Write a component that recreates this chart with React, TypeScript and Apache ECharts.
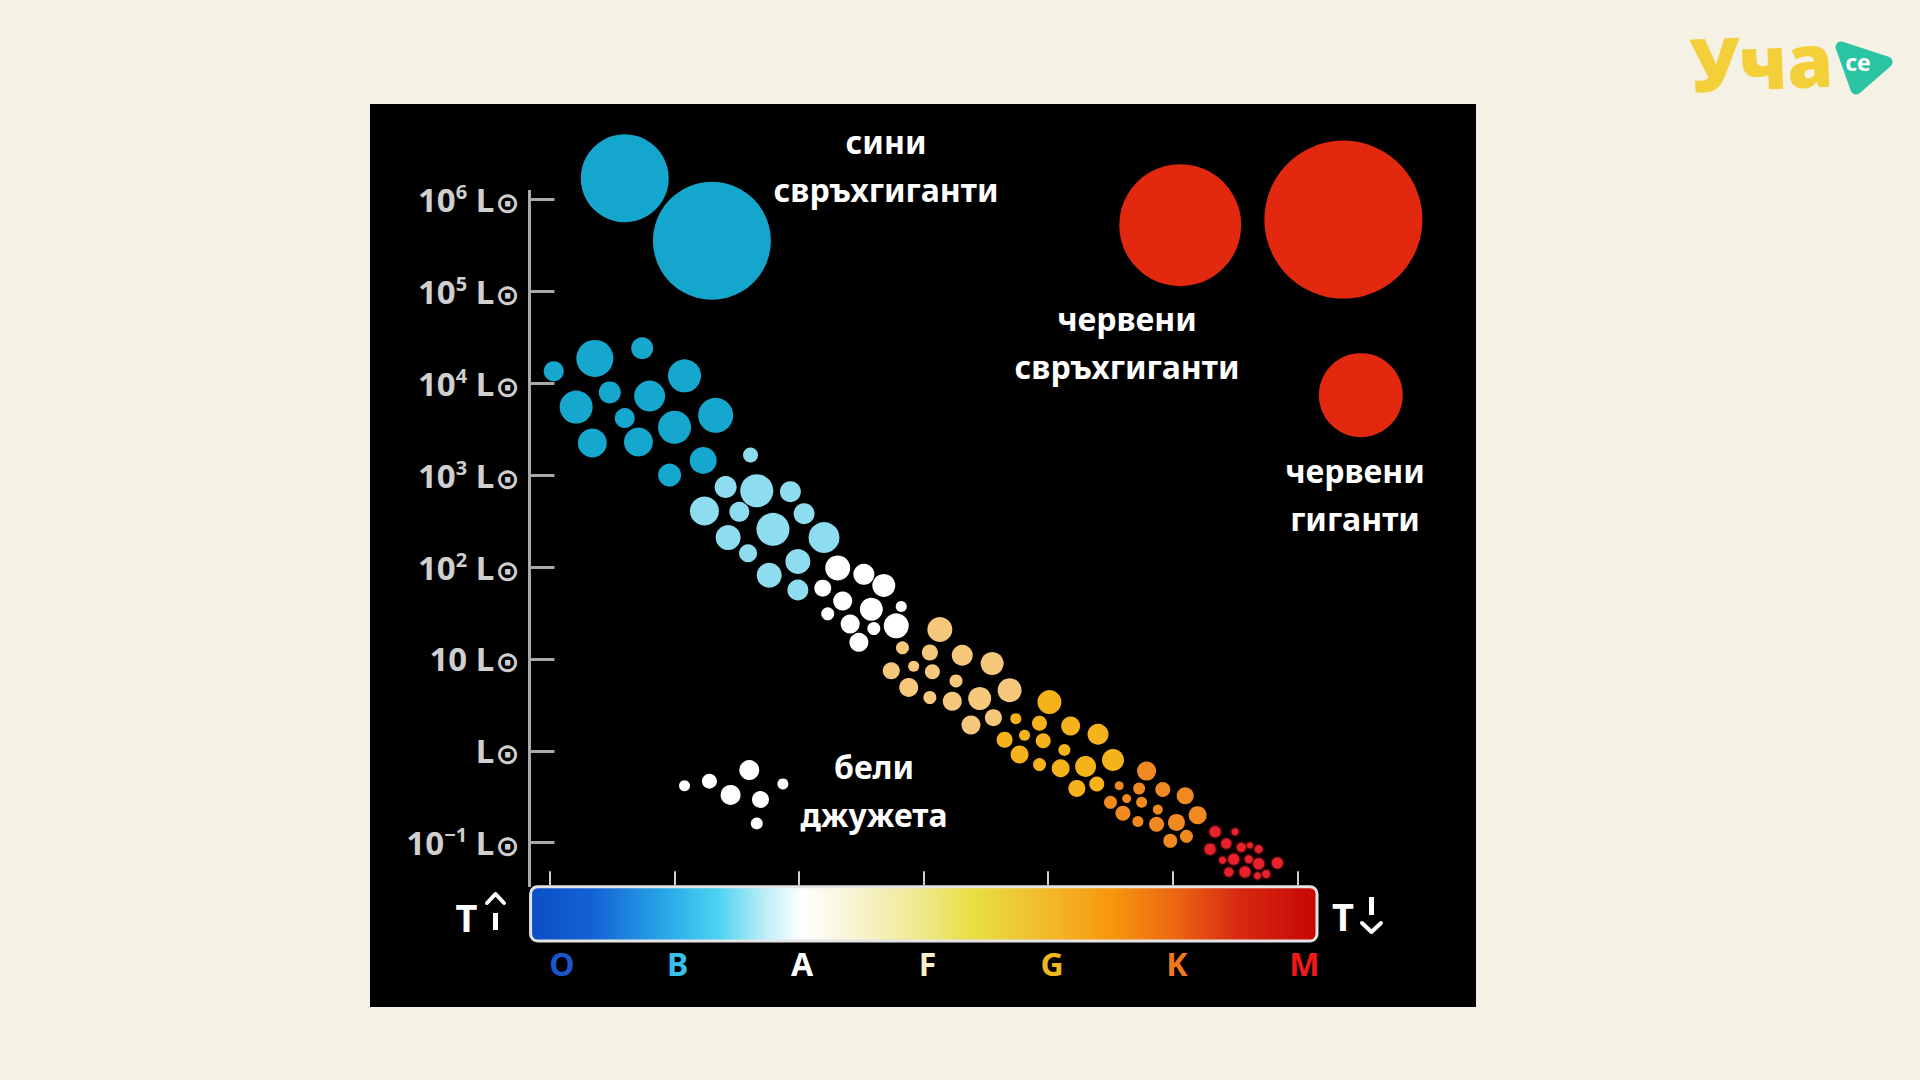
import React, { useEffect, useRef } from 'react';
import * as echarts from 'echarts';

// ---- axis categories / tick labels ----
const spectralClasses = ['O', 'B', 'A', 'F', 'G', 'K', 'M'];
const spectralColors = ['#1a56ca', '#36bfe9', '#ffffff', '#f7f0c8', '#efb81f', '#f2781c', '#ee1a1a'];
const luminosityExponents = ['−1', '', '', '2', '3', '4', '5', '6']; // for log10(L/L☉) = -1 … 6
const luminosityMin = -1;
const luminosityMax = 6;

// ---- stars: [spectral class index, log10(L / L☉), star diameter] ----
const blueSupergiants = [[0.60, 6.23, 88], [1.30, 5.55, 118]];
const redSupergiants = [[5.06, 5.72, 122], [6.37, 5.78, 158]];
const redGiants = [[6.51, 3.87, 84]];

const mainSeqBlue = [
  [0.03, 4.13, 20], [0.36, 4.27, 37], [0.74, 4.38, 22], [1.08, 4.08, 33],
  [0.21, 3.74, 33], [0.48, 3.90, 22], [0.80, 3.86, 31], [0.60, 3.62, 20],
  [1.00, 3.52, 33], [1.33, 3.65, 35], [0.34, 3.35, 29], [0.71, 3.36, 29],
  [1.23, 3.16, 27], [0.96, 3.00, 23],
];
const mainSeqLightBlue = [
  [1.61, 3.22, 15], [1.41, 2.87, 22], [1.66, 2.83, 33], [1.93, 2.82, 21],
  [1.24, 2.61, 29], [1.52, 2.60, 20], [2.04, 2.58, 21], [1.79, 2.41, 33],
  [1.43, 2.32, 25], [2.20, 2.32, 31], [1.59, 2.15, 18], [1.99, 2.06, 25],
  [1.76, 1.91, 25], [1.99, 1.75, 21],
];
const mainSeqWhite = [
  [2.31, 1.99, 25], [2.52, 1.92, 21], [2.68, 1.80, 23], [2.19, 1.77, 17],
  [2.35, 1.63, 19], [2.58, 1.54, 23], [2.82, 1.57, 11], [2.23, 1.49, 13],
  [2.41, 1.38, 19], [2.60, 1.33, 13], [2.78, 1.36, 25], [2.48, 1.18, 19],
];
const mainSeqPale = [
  [3.13, 1.32, 25], [2.83, 1.12, 13], [3.05, 1.07, 16], [3.31, 1.04, 21],
  [3.55, 0.95, 23], [2.74, 0.87, 17], [2.92, 0.92, 11], [3.07, 0.86, 15],
  [3.26, 0.76, 13], [2.88, 0.69, 19], [3.69, 0.66, 24], [3.05, 0.58, 13],
  [3.23, 0.54, 19], [3.45, 0.57, 23], [3.56, 0.36, 17], [3.38, 0.28, 19],
];
const mainSeqYellow = [
  [4.01, 0.53, 24], [3.74, 0.35, 11], [3.93, 0.30, 15], [4.18, 0.27, 19],
  [4.40, 0.18, 21], [3.81, 0.17, 11], [3.65, 0.12, 16], [3.96, 0.11, 15],
  [4.13, 0.01, 12], [3.77, -0.04, 18], [4.30, -0.17, 21], [3.93, -0.15, 13],
  [4.10, -0.19, 18], [4.52, -0.10, 22], [4.23, -0.41, 17], [4.39, -0.36, 15],
];
const mainSeqOrange = [
  [4.79, -0.22, 19], [4.57, -0.38, 9], [4.73, -0.41, 12], [4.92, -0.42, 15],
  [5.10, -0.49, 17], [4.50, -0.56, 13], [4.63, -0.52, 9], [4.75, -0.56, 11],
  [4.88, -0.64, 10], [4.60, -0.68, 15], [5.20, -0.70, 18], [5.03, -0.78, 17],
  [4.72, -0.77, 11], [4.87, -0.80, 15], [5.11, -0.93, 13], [4.98, -0.98, 14],
];
const mainSeqRed = [
  [5.34, -0.88, 11], [5.50, -0.88, 7], [5.43, -1.01, 10], [5.55, -1.05, 9],
  [5.62, -1.03, 6], [5.69, -1.07, 8], [5.30, -1.07, 11], [5.40, -1.19, 7],
  [5.49, -1.18, 11], [5.61, -1.18, 8], [5.69, -1.23, 11], [5.84, -1.22, 11],
  [5.45, -1.32, 9], [5.58, -1.32, 11], [5.68, -1.36, 7], [5.75, -1.34, 8],
];
const whiteDwarfs = [
  [1.08, -0.38, 11], [1.28, -0.33, 15], [1.60, -0.21, 20], [1.45, -0.48, 20],
  [1.87, -0.36, 11], [1.69, -0.53, 17], [1.66, -0.79, 12],
];

const groupLabels = [
  { text: 'сини\nсвръхгиганти', x: 886, y: 165 },
  { text: 'червени\nсвръхгиганти', x: 1127, y: 342 },
  { text: 'червени\nгиганти', x: 1355, y: 494 },
  { text: 'бели\nджужета', x: 874, y: 790 },
];

const groups = [
  { name: 'сини свръхгиганти', data: blueSupergiants, color: '#15a6cd', blur: 0 },
  { name: 'червени свръхгиганти', data: redSupergiants, color: '#e2290f', blur: 0 },
  { name: 'червени гиганти', data: redGiants, color: '#e2290f', blur: 0 },
  { name: 'O', data: mainSeqBlue, color: '#16a7ce', blur: 0 },
  { name: 'B', data: mainSeqLightBlue, color: '#8edcf0', blur: 0 },
  { name: 'A', data: mainSeqWhite, color: '#ffffff', blur: 0 },
  { name: 'F', data: mainSeqPale, color: '#f6c87c', blur: 0 },
  { name: 'G', data: mainSeqYellow, color: '#f5b21b', blur: 0 },
  { name: 'K', data: mainSeqOrange, color: '#f08a20', blur: 0 },
  { name: 'M', data: mainSeqRed, color: '#e8212a', blur: 3 },
  { name: 'бели джужета', data: whiteDwarfs, color: '#ffffff', blur: 0 },
];

// style only: small horizontal nudge of each spectral letter (px of left padding)
const spectralLabelNudge = [24, 6, 6, 8, 8, 8, 14];

const LABEL_FONT = '"Noto Sans", "Open Sans", sans-serif';

function yLabel(v: number): string {
  const idx = Math.round(v - luminosityMin);
  const exp = luminosityExponents[idx];
  if (v === 0) return '{n|L}{o|⊙}';
  if (v === 1) return '{n|10 L}{o|⊙}';
  return `{n|10}{s|${exp}}{n| L}{o|⊙}`;
}

function buildOption() {
  const barGradient = new echarts.graphic.LinearGradient(0, 0, 1, 0, [
    { offset: 0, color: '#0b4ec6' },
    { offset: 0.08, color: '#1462d6' },
    { offset: 0.18, color: '#2aaee9' },
    { offset: 0.24, color: '#4fd3f1' },
    { offset: 0.30, color: '#bfeff8' },
    { offset: 0.345, color: '#ffffff' },
    { offset: 0.43, color: '#f6f1c4' },
    { offset: 0.5, color: '#efe78a' },
    { offset: 0.56, color: '#e8df45' },
    { offset: 0.66, color: '#f2b828' },
    { offset: 0.74, color: '#f7960c' },
    { offset: 0.82, color: '#ec6612' },
    { offset: 0.9, color: '#d82a10' },
    { offset: 1, color: '#c60606' },
  ]);

  const txt = (text: string, x: number, y: number, size: number, extra: any = {}) => ({
    type: 'text',
    x,
    y,
    z: 20,
    style: {
      text,
      fill: '#ffffff',
      fontSize: size,
      fontWeight: 'bold',
      fontFamily: LABEL_FONT,
      align: 'center',
      verticalAlign: 'middle',
      textAlign: 'center',
      textVerticalAlign: 'middle',
      ...extra,
    },
  });

  const graphic: any[] = [
    { type: 'rect', z: -10, shape: { x: 370, y: 104, width: 1106, height: 903 }, style: { fill: '#000000' } },
    { type: 'line', z: 5, shape: { x1: 529.5, y1: 190, x2: 529.5, y2: 887 }, style: { stroke: '#a9a9a9', lineWidth: 3 } },
    {
      type: 'rect', z: 5,
      shape: { x: 530.6, y: 886.7, width: 786.4, height: 54.3, r: 7 },
      style: { fill: barGradient, stroke: '#e4e4e4', lineWidth: 3 },
    },
    ...groupLabels.map((g) => txt(g.text, g.x, g.y, 32, { lineHeight: 48 })),
    // T with rising / falling arrows
    txt('T', 466.5, 917, 38),
    { type: 'polyline', z: 20, shape: { points: [[487, 903], [495.5, 894], [504, 903]] }, style: { stroke: '#fff', lineWidth: 4, lineCap: 'round', lineJoin: 'round', fill: 'none' } },
    { type: 'line', z: 20, shape: { x1: 495.5, y1: 913, x2: 495.5, y2: 930 }, style: { stroke: '#fff', lineWidth: 5 } },
    txt('T', 1343, 916, 38),
    { type: 'line', z: 20, shape: { x1: 1371.5, y1: 897, x2: 1371.5, y2: 915 }, style: { stroke: '#fff', lineWidth: 5 } },
    { type: 'polyline', z: 20, shape: { points: [[1362, 923], [1371.5, 932], [1381, 923]] }, style: { stroke: '#fff', lineWidth: 4, lineCap: 'round', lineJoin: 'round', fill: 'none' } },
    // logo
    {
      type: 'text', z: 20, x: 1690, y: 64, rotation: 0.04,
      style: { text: 'Уча', fill: '#f3cf3a', fontSize: 74, fontWeight: 900, fontFamily: LABEL_FONT, align: 'left', verticalAlign: 'middle', textAlign: 'left', textVerticalAlign: 'middle' },
    },
    {
      type: 'polygon', z: 20,
      shape: { points: [[1841, 47], [1887, 62], [1856, 89]] },
      style: { fill: '#2bc4a2', stroke: '#2bc4a2', lineWidth: 11, lineJoin: 'round' },
    },
    {
      type: 'text', z: 21, x: 1858, y: 62,
      style: { text: 'ce', fill: '#ffffff', fontSize: 23, fontWeight: 'bold', fontFamily: LABEL_FONT, align: 'center', verticalAlign: 'middle', textAlign: 'center', textVerticalAlign: 'middle' },
    },
  ];

  const xRich: Record<string, any> = {};
  spectralClasses.forEach((_, i) => {
    xRich['c' + i] = {
      fontSize: 32,
      fontWeight: 'bold',
      fontFamily: LABEL_FONT,
      color: spectralColors[i],
      padding: [0, 0, 0, spectralLabelNudge[i]],
    };
  });

  return {
    animation: false,
    backgroundColor: '#f6f1e5',
    grid: { left: 550, right: 622.7, top: 199.4, bottom: 237.3 },
    xAxis: {
      type: 'value',
      min: 0,
      max: spectralClasses.length - 1,
      interval: 1,
      offset: 28.5,
      z: 5,
      axisLine: { show: false, onZero: false },
      splitLine: { show: false },
      axisTick: { show: true, length: 14, lineStyle: { color: '#cfcfcf', width: 2 } },
      axisLabel: {
        show: true,
        margin: 76,
        showMinLabel: true,
        showMaxLabel: true,
        formatter: (v: number) => {
          const i = Math.round(v);
          return spectralClasses[i] ? `{c${i}|${spectralClasses[i]}}` : '';
        },
        rich: xRich,
      },
    },
    yAxis: {
      type: 'value',
      min: luminosityMin,
      max: luminosityMax,
      interval: 1,
      offset: 20.5,
      z: 5,
      axisLine: { show: false, onZero: false },
      splitLine: { show: false },
      axisTick: { show: true, inside: true, length: 25, lineStyle: { color: '#a9a9a9', width: 3 } },
      axisLabel: {
        show: true,
        margin: 10,
        showMinLabel: true,
        showMaxLabel: true,
        formatter: yLabel,
        rich: {
          n: { fontSize: 33, fontWeight: 'bold', color: '#cfcfcf', fontFamily: LABEL_FONT, lineHeight: 36 },
          s: { fontSize: 20, fontWeight: 'bold', color: '#cfcfcf', fontFamily: LABEL_FONT, verticalAlign: 'top', lineHeight: 22 },
          o: { fontSize: 29, fontWeight: 'bold', color: '#cfcfcf', fontFamily: '"DejaVu Sans", sans-serif', verticalAlign: 'bottom', lineHeight: 30, padding: [0, 0, 0, 1] },
        },
      },
    },
    graphic,
    series: groups.map((g) => ({
      type: 'scatter',
      name: g.name,
      data: g.data,
      symbol: 'circle',
      symbolSize: (v: number[]) => v[2],
      clip: false,
      silent: true,
      z: 10,
      itemStyle: {
        color: g.color,
        opacity: 1,
        shadowBlur: g.blur,
        shadowColor: g.blur ? g.color : 'transparent',
      },
    })),
  };
}

export default function App() {
  const ref = useRef<HTMLDivElement>(null);
  useEffect(() => {
    document.documentElement.lang = 'bg';
    document.body.style.margin = '0';
    const chart = echarts.init(ref.current as HTMLDivElement, null, { renderer: 'svg' });
    chart.setOption(buildOption() as any);
    return () => chart.dispose();
  }, []);
  return <div ref={ref} lang="bg" style={{ width: 1920, height: 1080, background: '#f6f1e5' }} />;
}
